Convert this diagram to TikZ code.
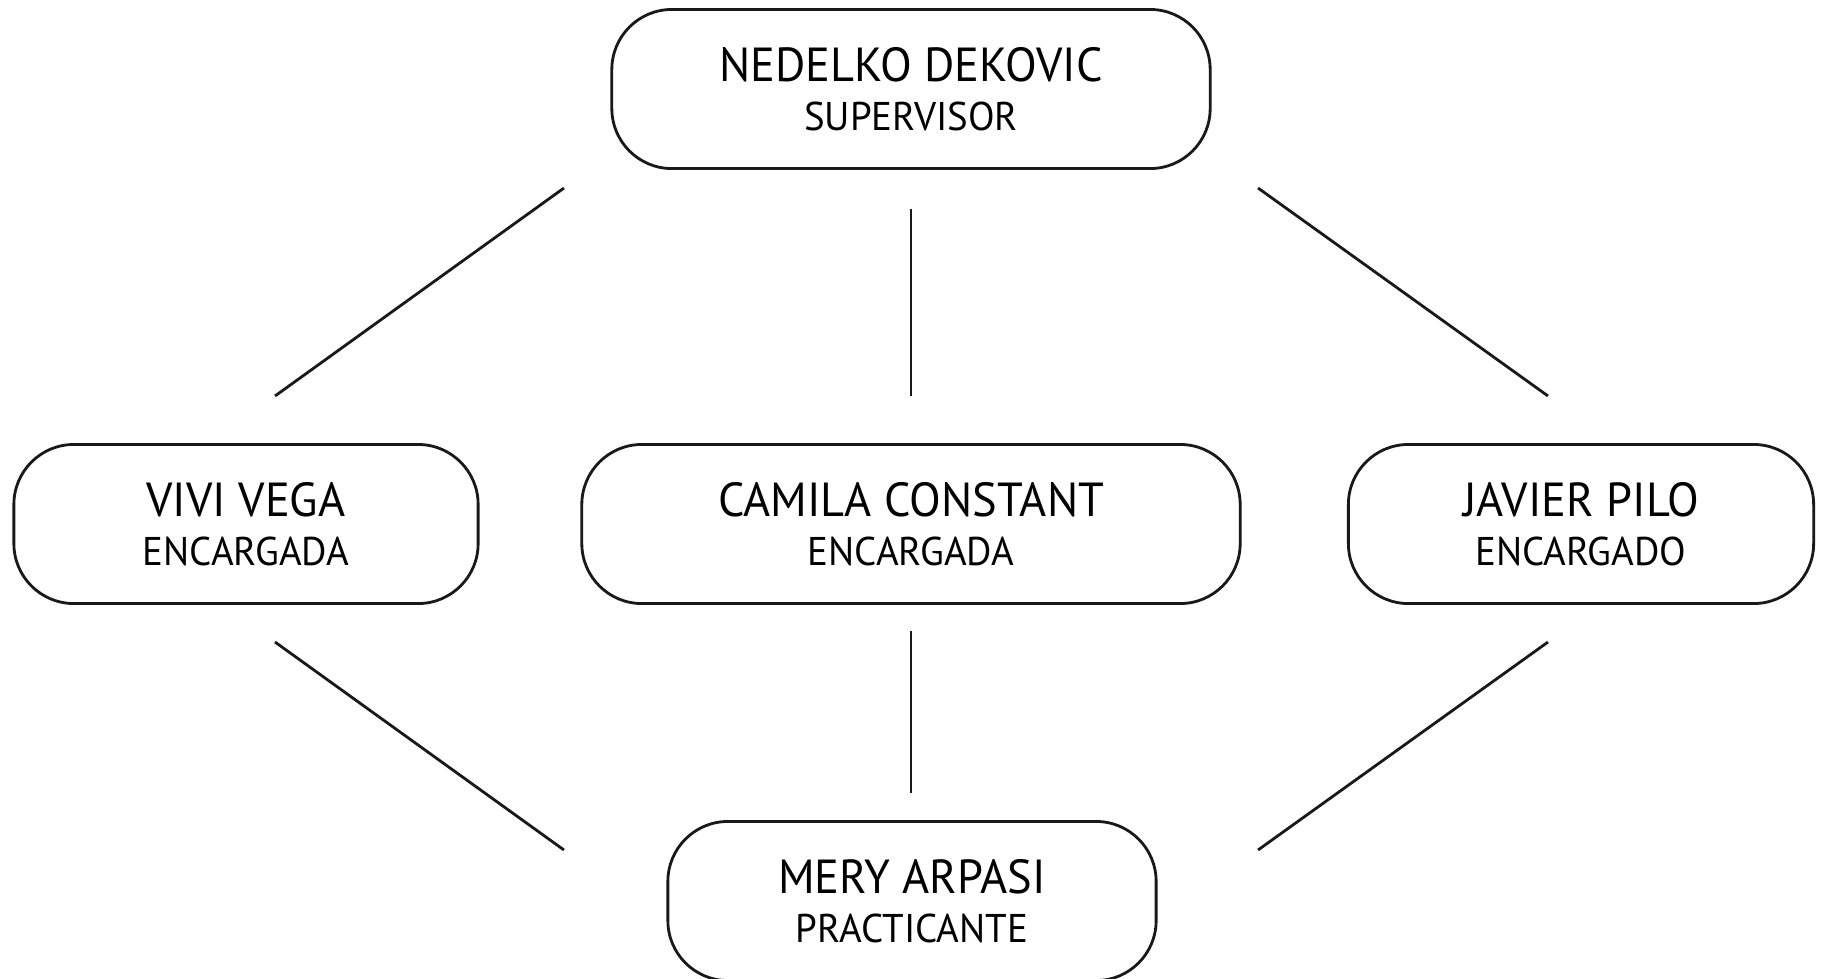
\documentclass[tikz,border=0pt]{standalone}
\usepackage{fontspec}
\setmainfont{PT Sans}[FakeStretch=0.97]
\usepackage{tikz}

\newcommand{\namesize}{\fontsize{13.6}{16}\selectfont}
\newcommand{\rolesize}{\fontsize{11.4}{14}\selectfont}

\begin{document}
\begin{tikzpicture}[x=0.01cm, y=-0.01cm,
  puesto/.style={draw=black!90, thick, rectangle, rounded corners=0.6cm,
    minimum height=1.59cm, align=center, font=\rolesize, inner sep=0pt}]

\useasboundingbox (0,0) rectangle (1821,978);

\node[puesto, minimum width=5.98cm] (nedelko) at (911,89) {{\namesize NEDELKO DEKOVIC}\\SUPERVISOR};
\node[puesto, minimum width=4.64cm] (vivi) at (246,524) {{\namesize VIVI VEGA}\\ENCARGADA};
\node[puesto, minimum width=6.58cm] (camila) at (911,524) {{\namesize CAMILA CONSTANT}\\ENCARGADA};
\node[puesto, minimum width=4.65cm] (javier) at (1581,524) {{\namesize JAVIER PILO}\\ENCARGADO};
\node[puesto, minimum width=4.88cm] (mery) at (912,901) {{\namesize MERY ARPASI}\\PRACTICANTE};

\coordinate (A) at (564,188);
\coordinate (B) at (275,396);
\coordinate (C) at (911,209);
\coordinate (D) at (911,396);
\coordinate (E) at (1258,188);
\coordinate (F) at (1548,396);

\coordinate (G) at (275,642);
\coordinate (H) at (564,850);
\coordinate (I) at (911,631);
\coordinate (J) at (911,793);
\coordinate (K) at (1548,642);
\coordinate (L) at (1258,850);

\draw[color=black!90, thick] (A) -- (B);
\draw[color=black!90, thick] (C) -- (D);
\draw[color=black!90, thick] (E) -- (F);
\draw[color=black!90, thick] (G) -- (H);
\draw[color=black!90, thick] (I) -- (J);
\draw[color=black!90, thick] (K) -- (L);

\end{tikzpicture}
\end{document}
